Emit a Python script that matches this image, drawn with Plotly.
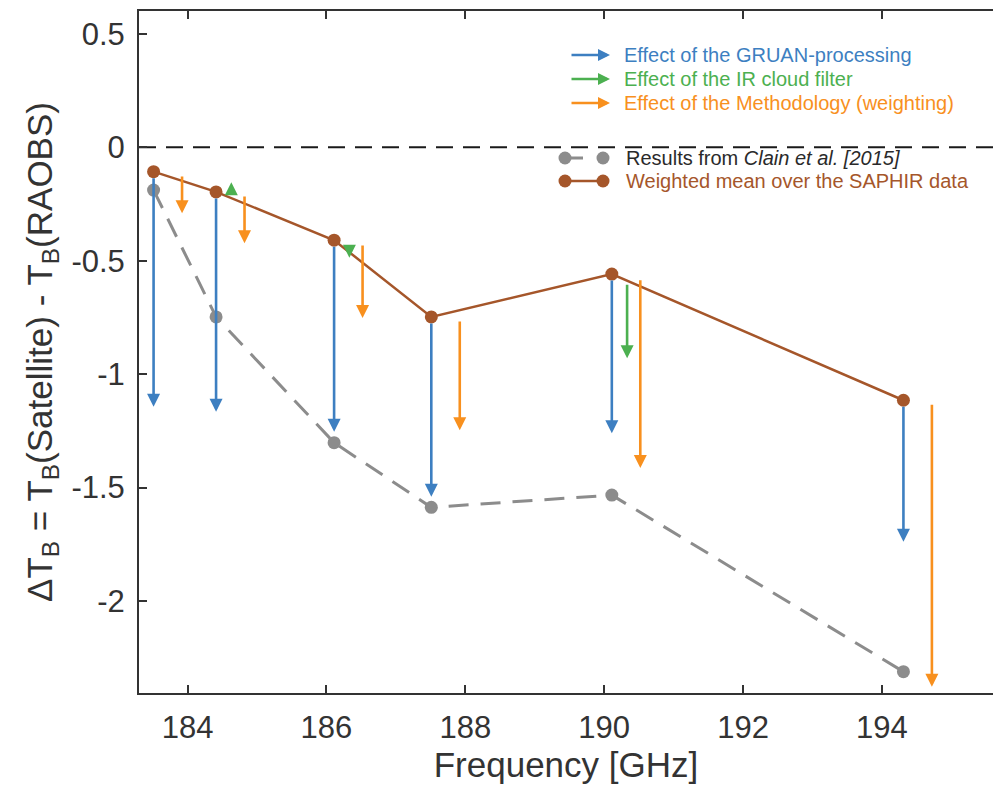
import plotly.graph_objects as go

# ---------------- data ----------------
freq = [183.51, 184.41, 186.11, 187.51, 190.11, 194.31]          # SAPHIR channels [GHz]
saphir_mean = [-0.108, -0.197, -0.410, -0.748, -0.559, -1.115]    # weighted mean over SAPHIR data
clain2015 = [-0.189, -0.748, -1.302, -1.587, -1.533, -2.311]      # Clain et al. [2015]

gruan_end = [-1.144, -1.166, -1.254, -1.540, -1.260, -1.739]      # GRUAN-processing arrows (start at saphir_mean)

cloud_freq = [184.41, 186.11, 190.11]                             # IR cloud filter arrows
cloud_start = [-0.200, -0.432, -0.600]
cloud_end = [-0.155, -0.487, -0.930]

method_start = [-0.123, -0.211, -0.427, -0.762, -0.580, -1.128]   # Methodology (weighting) arrows
method_end = [-0.291, -0.423, -0.753, -1.247, -1.414, -2.378]

cloud_dx = 0.22    # horizontal offset of the cloud-filter arrows [GHz]
method_dx = 0.41   # horizontal offset of the methodology arrows [GHz]

xtick_vals = [184, 186, 188, 190, 192, 194]
ytick_vals = [0.5, 0, -0.5, -1, -1.5, -2]
ytick_text = ["0.5", "0", "-0.5", "-1", "-1.5", "-2"]

legend_labels = [
    "Effect of the GRUAN-processing",
    "Effect of the IR cloud filter",
    "Effect of the Methodology (weighting)",
]
label_clain = "Results from <i>Clain et al. [2015]</i>"
label_saphir = "Weighted mean over the SAPHIR data"

# ---------------- styles ----------------
BLUE = "#3d7fc1"
GREEN = "#4cb050"
ORANGE = "#f8901e"
BROWN = "#a5562a"
GRAY = "#8c8c8c"
TXT = "#333333"
FONT = "Arial, Liberation Sans, Helvetica, sans-serif"

W, H = 993, 787
L, R, T, B = 139, 0, 11, 94
PW, PH = W - L - R, H - T - B


def px(xpix):
    return (xpix - L) / PW


def py(ypix):
    return (H - B - ypix) / PH


fig = go.Figure()

# Clain et al. dashed gray line
fig.add_trace(go.Scatter(
    x=freq, y=clain2015, mode="lines+markers",
    line=dict(color=GRAY, width=3, dash="20px,12px"),
    marker=dict(color=GRAY, size=13),
    showlegend=False, hoverinfo="skip"))

# SAPHIR weighted mean
fig.add_trace(go.Scatter(
    x=freq, y=saphir_mean, mode="lines+markers",
    line=dict(color=BROWN, width=2.5),
    marker=dict(color=BROWN, size=13),
    showlegend=False, hoverinfo="skip"))

annotations = []


def arrow(x, y0, y1, color, startstand=0):
    annotations.append(dict(
        x=x, y=y1, ax=x, ay=y0, xref="x", yref="y", axref="x", ayref="y",
        text="", showarrow=True, arrowhead=2, arrowsize=1.0, arrowwidth=2.6,
        arrowcolor=color, startstandoff=startstand))


for f, s, e in zip(freq, saphir_mean, gruan_end):
    arrow(f, s, e, BLUE, startstand=5)
for f, s, e in zip(cloud_freq, cloud_start, cloud_end):
    arrow(f + cloud_dx, s, e, GREEN)
for f, s, e in zip(freq, method_start, method_end):
    arrow(f + method_dx, s, e, ORANGE)

# ---------------- custom legend ----------------
leg_colors = [BLUE, GREEN, ORANGE]
leg_y = [55, 79, 103]
for lab, col, yy in zip(legend_labels, leg_colors, leg_y):
    annotations.append(dict(
        x=px(610), y=py(yy), ax=px(570), ay=py(yy), xref="x2", yref="y2",
        axref="x2", ayref="y2", text="", showarrow=True, arrowhead=2,
        arrowsize=1.0, arrowwidth=2.4, arrowcolor=col))
    annotations.append(dict(
        x=px(622), y=py(yy), xref="paper", yref="paper", text=lab,
        showarrow=False, xanchor="left", yanchor="middle",
        font=dict(family=FONT, size=20, color=col)))

annotations.append(dict(
    x=px(624), y=py(158), xref="paper", yref="paper", text=label_clain,
    showarrow=False, xanchor="left", yanchor="middle",
    font=dict(family=FONT, size=20, color="#2a2a2a")))
annotations.append(dict(
    x=px(624), y=py(181), xref="paper", yref="paper", text=label_saphir,
    showarrow=False, xanchor="left", yanchor="middle",
    font=dict(family=FONT, size=20, color=BROWN)))

# legend samples on an invisible overlay axis spanning the plot area
fig.add_trace(go.Scatter(
    x=[px(565), px(603)], y=[py(158), py(158)], xaxis="x2", yaxis="y2",
    mode="lines+markers", line=dict(color=GRAY, width=3, dash="18px,14px"),
    marker=dict(color=GRAY, size=13), showlegend=False, hoverinfo="skip"))
fig.add_trace(go.Scatter(
    x=[px(565), px(603)], y=[py(181), py(181)], xaxis="x2", yaxis="y2",
    mode="lines+markers", line=dict(color=BROWN, width=2.5),
    marker=dict(color=BROWN, size=13), showlegend=False, hoverinfo="skip"))

# zero dashed line
shapes = [dict(type="line", xref="paper", yref="y", x0=0, x1=1, y0=0, y1=0,
               line=dict(color="#1a1a1a", width=2, dash="17px,10px"), layer="below")]

fig.update_layout(
    width=W, height=H,
    margin=dict(l=L, r=R, t=T, b=B),
    paper_bgcolor="white", plot_bgcolor="white",
    showlegend=False,
    annotations=annotations,
    shapes=shapes,
    xaxis=dict(
        range=[183.3, 195.6], tickvals=xtick_vals, ticktext=[str(v) for v in xtick_vals],
        ticks="inside", ticklen=8, tickwidth=1.5, tickcolor=TXT,
        showline=True, linecolor=TXT, linewidth=2, mirror="ticks",
        showgrid=False, zeroline=False, ticklabelstandoff=6,
        tickfont=dict(family=FONT, size=31, color=TXT),
        title=dict(text="Frequency [GHz]", standoff=8,
                   font=dict(family=FONT, size=35, color=TXT))),
    yaxis=dict(
        range=[-2.405, 0.6], tickvals=ytick_vals, ticktext=ytick_text,
        ticks="inside", ticklen=8, tickwidth=1.5, tickcolor=TXT,
        showline=True, linecolor=TXT, linewidth=2, mirror=False,
        showgrid=False, zeroline=False, ticklabelstandoff=6,
        tickfont=dict(family=FONT, size=31, color=TXT),
        title=dict(text="ΔT<sub>B</sub> = T<sub>B</sub>(Satellite) - T<sub>B</sub>(RAOBS)",
                   standoff=8, font=dict(family=FONT, size=35, color=TXT))),
    xaxis2=dict(range=[0, 1], overlaying="x", visible=False, fixedrange=True),
    yaxis2=dict(range=[0, 1], overlaying="y", visible=False, fixedrange=True),
)

fig.write_html("out.html")
